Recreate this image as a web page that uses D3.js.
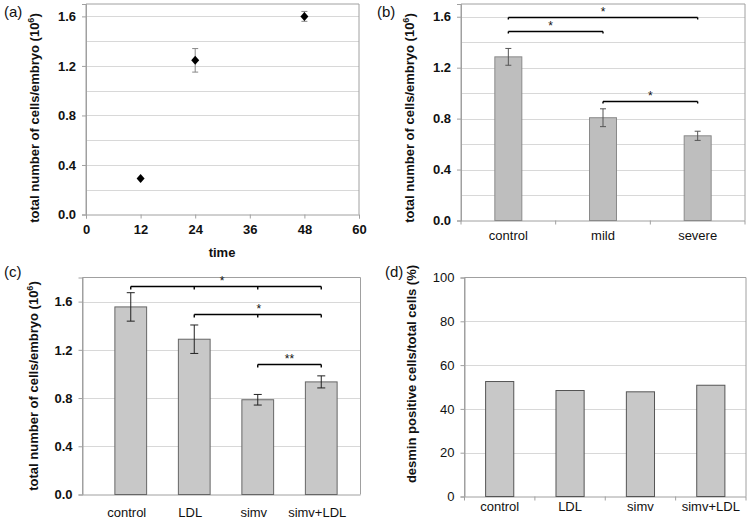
<!DOCTYPE html>
<meta charset="utf-8">
<script src="https://d3js.org/d3.v7.min.js"></script>
<style>
body { margin: 0; background: #fff; }
text { font-family: "Liberation Sans", Arial, sans-serif; fill: #111; }
</style>
<body>
<svg width="750" height="521"></svg>
<script>
// (a) time course
var timePoints = [12, 24, 48];
var timeCells = [0.29, 1.245, 1.6];
var timeErr = [0.01, 0.095, 0.04];
var timeTicks = [0, 12, 24, 36, 48, 60];

// (b) severity
var sevCats = ['control', 'mild', 'severe'];
var sevCells = [1.285, 0.807, 0.665];
var sevErr = [0.066, 0.07, 0.036];

// (c) treatments
var trtCats = ['control', 'LDL', 'simv', 'simv+LDL'];
var trtCells = [1.556, 1.288, 0.786, 0.934];
var trtErr = [0.118, 0.118, 0.044, 0.05];

// (d) desmin positive fraction
var desmin = [52.5, 48.4, 47.8, 50.8];

var cellTicks = [0, 0.4, 0.8, 1.2, 1.6];
var pctTicks = [0, 20, 40, 60, 80, 100];

var svg = d3.select('svg');

function frame(g, x0, x1, y0, y1){
    g.append('path')
        .attr('d', 'M' + x0 + ',' + y1 + 'V' + y0 + 'H' + x1 + 'V' + y1)
        .attr('fill', 'none').attr('stroke', '#a0a0a0').attr('stroke-width', 1);
}

function grid(g, y, vals, x0, x1, col){
    g.selectAll('line.grid').data(vals).enter().append('line')
        .attr('class', 'grid')
        .attr('x1', x0).attr('x2', x1)
        .attr('y1', function(d){ return Math.round(y(d)) + 0.5; })
        .attr('y2', function(d){ return Math.round(y(d)) + 0.5; })
        .attr('stroke', col || '#d8d8d8');
}

function yTitle(g, x, yc){
    return g.append('text')
        .attr('transform', 'translate(' + x + ',' + yc + ') rotate(-90)')
        .attr('text-anchor', 'middle')
        .style('font-size', '13px').style('font-weight', 'bold');
}

function cellsTitle(g, x, yc){
    var t = yTitle(g, x, yc);
    t.append('tspan').text('total number of cells/embryo (10');
    t.append('tspan').attr('dy', -5).style('font-size', '9px').text('6');
    t.append('tspan').attr('dy', 5).text(')');
}

function yAxis(g, y, x0, ticks, fmt, bold){
    var ax = g.append('g').attr('transform', 'translate(' + x0 + ',0)')
        .call(d3.axisLeft(y).tickValues(ticks).tickFormat(fmt).tickSize(4).tickPadding(6));
    ax.select('.domain').attr('stroke', '#a0a0a0');
    ax.selectAll('.tick line').attr('stroke', '#a0a0a0');
    ax.selectAll('text').style('font-size', '13px')
        .style('font-weight', bold ? 'bold' : 'normal')
        .style('font-family', '"Liberation Sans", Arial, sans-serif').attr('fill', '#111');
    return ax;
}

function panelLabel(x, y, s){
    svg.append('text').attr('x', x).attr('y', y).style('font-size', '15px').text(s);
}

/* ----------- (a) ----------- */
(function(){
    var g = svg.append('g');
    var x = d3.scaleLinear().domain([0, 60]).range([86, 359]);
    var y = d3.scaleLinear().domain([0, 1.7]).range([214.5, 4]);
    grid(g, y, d3.range(1, 9).map(function(i){ return i * 0.2; }), 86, 359);
    frame(g, 86, 359, 4, 214.5);
    yAxis(g, y, 86, cellTicks, d3.format('.1f'), true);
    var xa = g.append('g').attr('transform', 'translate(0,214.5)')
        .call(d3.axisBottom(x).tickValues(timeTicks).tickSize(4).tickPadding(6));
    xa.select('.domain').attr('stroke', '#a0a0a0');
    xa.selectAll('.tick line').attr('stroke', '#a0a0a0');
    xa.selectAll('text').style('font-size', '13px').style('font-weight', 'bold')
        .style('font-family', '"Liberation Sans", Arial, sans-serif').attr('fill', '#111');
    g.append('text').attr('x', 222).attr('y', 257).attr('text-anchor', 'middle')
        .style('font-size', '13px').style('font-weight', 'bold').text('time');

    var pts = timePoints.map(function(t, i){ return {t: t, v: timeCells[i], e: timeErr[i]}; });
    var eb = g.selectAll('g.err').data(pts.filter(function(d){ return d.e > 0.02; })).enter().append('g');
    eb.append('line').attr('x1', function(d){ return x(d.t); }).attr('x2', function(d){ return x(d.t); })
        .attr('y1', function(d){ return y(d.v + d.e); }).attr('y2', function(d){ return y(d.v - d.e); })
        .attr('stroke', '#888');
    [1, -1].forEach(function(s){
        eb.append('line').attr('x1', function(d){ return x(d.t) - 3; }).attr('x2', function(d){ return x(d.t) + 3; })
            .attr('y1', function(d){ return y(d.v + s * d.e); }).attr('y2', function(d){ return y(d.v + s * d.e); })
            .attr('stroke', '#888');
    });
    g.selectAll('path.pt').data(pts).enter().append('path')
        .attr('transform', function(d){ return 'translate(' + x(d.t) + ',' + y(d.v) + ')'; })
        .attr('d', 'M0,-4.5L4,0L0,4.5L-4,0Z').attr('fill', '#000');

    cellsTitle(g, 39, 118);
    panelLabel(4, 17, '(a)');
})();

/* ----------- bar panel helper ----------- */
function barPanel(opt){
    var g = svg.append('g');
    var y = d3.scaleLinear().domain(opt.ydom).range([opt.bottom, opt.top]);
    var x = d3.scaleBand().domain(opt.cats).range(opt.xr).padding(0);
    grid(g, y, opt.grid, opt.left, opt.right);
    frame(g, opt.left, opt.right, opt.top, opt.bottom);
    g.append('line').attr('x1', opt.left).attr('x2', opt.right)
        .attr('y1', opt.bottom + 0.5).attr('y2', opt.bottom + 0.5).attr('stroke', '#a0a0a0');
    if (opt.xTicks){
        var bounds = opt.cats.map(function(c){ return x(c); }).concat([x(opt.cats[opt.cats.length - 1]) + x.bandwidth()]);
        g.selectAll('line.xt').data(bounds).enter().append('line')
            .attr('x1', function(d){ return d; }).attr('x2', function(d){ return d; })
            .attr('y1', opt.bottom).attr('y2', opt.bottom + 4).attr('stroke', '#a0a0a0');
    }
    yAxis(g, y, opt.left, opt.ticks, opt.fmt, opt.boldTicks);

    var bw = x.bandwidth() * opt.barFrac;
    var cx = function(d){ return x(d.c) + x.bandwidth() / 2; };
    var data = opt.cats.map(function(c, i){ return {c: c, v: opt.vals[i], e: opt.errs ? opt.errs[i] : 0}; });
    g.selectAll('rect.bar').data(data).enter().append('rect')
        .attr('x', function(d){ return cx(d) - bw / 2; })
        .attr('width', bw)
        .attr('y', function(d){ return y(d.v); })
        .attr('height', function(d){ return opt.bottom - y(d.v); })
        .attr('fill', opt.fill).attr('stroke', opt.stroke).attr('stroke-width', 1);
    if (opt.errs){
        var eb = g.selectAll('g.err').data(data).enter().append('g');
        eb.append('line').attr('x1', cx).attr('x2', cx)
            .attr('y1', function(d){ return y(d.v + d.e); }).attr('y2', function(d){ return y(d.v - d.e); })
            .attr('stroke', opt.errCol);
        [1, -1].forEach(function(s){
            eb.append('line').attr('x1', function(d){ return cx(d) - opt.cap; }).attr('x2', function(d){ return cx(d) + opt.cap; })
                .attr('y1', function(d){ return y(d.v + s * d.e); }).attr('y2', function(d){ return y(d.v + s * d.e); })
                .attr('stroke', opt.errCol);
        });
    }
    g.selectAll('text.xl').data(opt.cats).enter().append('text')
        .attr('x', function(d){ return x(d) + x.bandwidth() / 2 + (opt.labelDx || 0); })
        .attr('y', opt.labelY).attr('text-anchor', 'middle')
        .style('font-size', '13px').text(function(d){ return d; });

    // significance brackets
    (opt.sig || []).forEach(function(s){
        var cs = s.cats.map(function(c){ return x(c) + x.bandwidth() / 2; });
        var yy = Math.round(y(s.level)) + 0.5;
        g.append('line').attr('x1', cs[0]).attr('x2', cs[cs.length - 1])
            .attr('y1', yy).attr('y2', yy).attr('stroke', '#000').attr('stroke-width', 1.4);
        g.selectAll(null).data(cs).enter().append('line')
            .attr('x1', function(d){ return d; }).attr('x2', function(d){ return d; })
            .attr('y1', yy).attr('y2', yy + s.tick).attr('stroke', '#000').attr('stroke-width', 1.4);
        g.append('text').attr('x', (cs[0] + cs[cs.length - 1]) / 2 + (s.dx || 0)).attr('y', yy - 2)
            .attr('text-anchor', 'middle').style('font-size', '12px').text(s.mark);
    });
    return {g: g, y: y};
}

/* ----------- (b) ----------- */
(function(){
    var p = barPanel({
        cats: sevCats, vals: sevCells, errs: sevErr,
        ydom: [0, 1.7], left: 461, right: 745, top: 4, bottom: 220.5, xr: [461, 745],
        grid: d3.range(1, 9).map(function(i){ return i * 0.2; }),
        ticks: cellTicks, fmt: d3.format('.1f'), boldTicks: true, xTicks: true,
        barFrac: 0.285, fill: '#bebebe', stroke: '#8a8a8a', errCol: '#555', cap: 3,
        labelY: 240,
        sig: [
            {cats: ['control', 'severe'], level: 1.595, mark: '*', tick: 2},
            {cats: ['control', 'mild'], level: 1.49, mark: '*', tick: 2, dx: -5},
            {cats: ['mild', 'severe'], level: 0.94, mark: '*', tick: 2}
        ]
    });
    cellsTitle(p.g, 414, 118);
    panelLabel(377, 17, '(b)');
})();

/* ----------- (c) ----------- */
(function(){
    var p = barPanel({
        cats: trtCats, vals: trtCells, errs: trtErr,
        ydom: [0, 1.8], left: 82.5, right: 360.5, top: 277.5, bottom: 494.5, xr: [99, 353],
        grid: [0.4, 0.8, 1.2, 1.6],
        ticks: cellTicks, fmt: d3.format('.1f'), boldTicks: true, xTicks: false,
        barFrac: 0.5, fill: '#c8c8c8', stroke: '#666', errCol: '#222', cap: 4,
        labelY: 517, labelDx: -4,
        sig: [
            {cats: ['control', 'LDL', 'simv', 'simv+LDL'], level: 1.73, mark: '*', tick: 3, dx: -4},
            {cats: ['LDL', 'simv', 'simv+LDL'], level: 1.5, mark: '*', tick: 3, dx: 1},
            {cats: ['simv', 'simv+LDL'], level: 1.08, mark: '**', tick: 3}
        ]
    });
    cellsTitle(p.g, 38, 386);
    panelLabel(4, 277, '(c)');
})();

/* ----------- (d) ----------- */
(function(){
    var p = barPanel({
        cats: trtCats, vals: desmin, errs: null,
        ydom: [0, 100], left: 464.5, right: 746, top: 277.5, bottom: 496.5, xr: [464.5, 746],
        grid: [20, 40, 60, 80],
        ticks: pctTicks, fmt: d3.format('d'), boldTicks: false, xTicks: true,
        barFrac: 0.4, fill: '#c8c8c8', stroke: '#555',
        labelY: 511
    });
    var t = yTitle(p.g, 416, 374);
    t.text('desmin positive cells/total cells (%)');
    panelLabel(385, 277, '(d)');
})();
</script>
